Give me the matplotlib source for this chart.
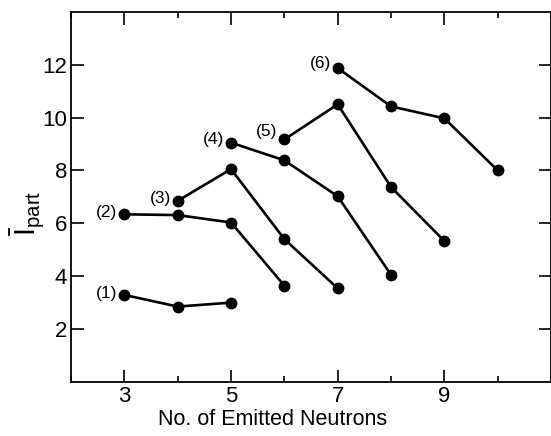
import matplotlib.pyplot as plt
from matplotlib.ticker import MultipleLocator

plt.rcParams['font.family'] = ['Liberation Sans', 'DejaVu Sans']
plt.rcParams['mathtext.fontset'] = 'custom'
plt.rcParams['mathtext.rm'] = 'Liberation Sans'

# data
labels = ["(1)", "(2)", "(3)", "(4)", "(5)", "(6)"]
x1 = [3, 4, 5]
y1 = [3.29, 2.85, 3.0]
x2 = [3, 4, 5, 6]
y2 = [6.34, 6.31, 6.03, 3.64]
x3 = [4, 5, 6, 7]
y3 = [6.85, 8.05, 5.4, 3.54]
x4 = [5, 6, 7, 8]
y4 = [9.05, 8.38, 7.02, 4.05]
x5 = [6, 7, 8, 9]
y5 = [9.17, 10.5, 7.37, 5.33]
x6 = [7, 8, 9, 10]
y6 = [11.87, 10.42, 9.97, 8.0]

xs = [x1, x2, x3, x4, x5, x6]
ys = [y1, y2, y3, y4, y5, y6]
# label offset (points) relative to first point of each curve
offsets = [(-5, 1), (-5, 1), (-5, 2), (-5, 2), (-5, 6), (-5, 3)]

fig = plt.figure(figsize=(5.51, 4.36), dpi=100)
ax = fig.add_axes([0.129, 0.124, 0.871, 0.849])

for x, y, lab, off in zip(xs, ys, labels, offsets):
    ax.plot(x, y, color='black', lw=1.9, marker='o', ms=7.5, clip_on=False)
    ax.annotate(lab, (x[0], y[0]), xytext=off, textcoords='offset points',
                ha='right', va='center', fontsize=12.5)

ax.set_xlim(2, 11)
ax.set_ylim(0, 14)
ax.set_xticks([3, 5, 7, 9])
ax.xaxis.set_minor_locator(MultipleLocator(1))
ax.set_yticks([2, 4, 6, 8, 10, 12])

ax.tick_params(which='major', direction='in', length=9, width=1.2,
               top=True, right=True, labelsize=16, pad=3)
ax.tick_params(which='minor', direction='in', length=4.5, width=1.2, top=True)
for s in ax.spines.values():
    s.set_linewidth(1.3)

# axis titles placed by hand, as in the original (x title sits left of centre)
fig.text(273 / 551, 1 - 419 / 436, "No. of Emitted Neutrons",
         fontsize=15.5, ha='center', va='center')
fig.text(28 / 551, 1 - 213 / 436, r"$\bar{\mathrm{I}}_{\mathrm{part}}$",
         rotation=90, fontsize=21, ha='center', va='center')

fig.savefig("out.png", dpi=100)
